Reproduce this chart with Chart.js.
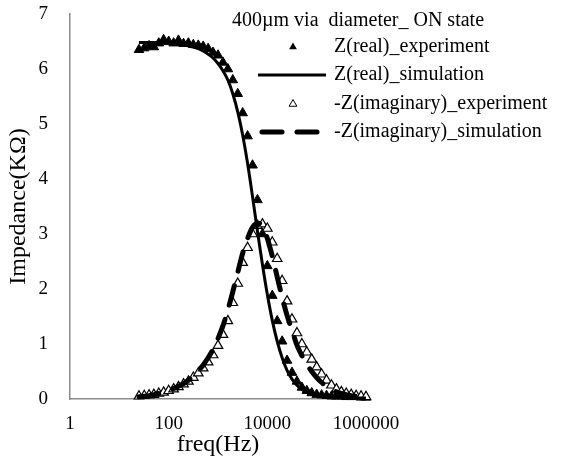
<!DOCTYPE html>
<html>
<head>
<meta charset="utf-8">
<script src="https://cdn.jsdelivr.net/npm/chart.js@4.4.0/dist/chart.umd.min.js"></script>
<style>
  body { margin: 0; background: #fff; }
  #wrap { width: 564px; height: 459px; }
</style>
</head>
<body>
<div id="wrap"><canvas id="impChart" width="564" height="459"></canvas></div>
<script>
// frequency points (Hz)
var freq = [25, 32, 40, 50, 63, 79, 100, 126, 158, 200, 251, 316, 398, 501, 631, 794,
  1000, 1259, 1585, 1995, 2512, 3162, 3981, 5012, 6310, 7943,
  10000, 12589, 15849, 19953, 25119, 31623, 39811, 50119, 63096, 79433,
  100000, 125893, 158489, 199526, 251189, 316228, 398107, 501187, 630957, 794328, 1000000];

// impedance values (KOhm)
var realExp = [6.35, 6.38, 6.42, 6.40, 6.47, 6.53, 6.50, 6.47, 6.52, 6.46, 6.47, 6.44, 6.43, 6.41, 6.37, 6.30,
  6.25, 6.12, 6.00, 5.80, 5.55, 5.20, 4.78, 4.25, 3.62, 3.00,
  2.42, 1.88, 1.42, 1.05, 0.70, 0.48, 0.32, 0.21, 0.15, 0.11,
  0.08, 0.07, 0.06, 0.05, 0.05, 0.05, 0.04, 0.04, 0.04, 0.03, 0.03];
var realSim = [6.48, 6.48, 6.48, 6.48, 6.48, 6.47, 6.47, 6.46, 6.45, 6.44, 6.42, 6.40, 6.37, 6.33, 6.27, 6.20,
  6.10, 5.97, 5.80, 5.55, 5.22, 4.80, 4.28, 3.68, 3.05, 2.45,
  1.90, 1.43, 1.05, 0.75, 0.52, 0.36, 0.25, 0.17, 0.12, 0.09,
  0.07, 0.05, 0.04, 0.04, 0.03, 0.03, 0.02, 0.02, 0.02, 0.02, 0.02];
var imagExp = [0.05, 0.06, 0.07, 0.08, 0.10, 0.12, 0.15, 0.18, 0.22, 0.27, 0.32, 0.39, 0.47, 0.56, 0.67, 0.80,
  0.97, 1.17, 1.42, 1.75, 2.10, 2.48, 2.75, 3.00, 3.15, 3.18,
  3.10, 2.85, 2.55, 2.15, 1.78, 1.45, 1.20, 1.00, 0.85, 0.72,
  0.58, 0.45, 0.34, 0.25, 0.18, 0.13, 0.10, 0.08, 0.06, 0.05, 0.04];
var imagSim = [0.04, 0.05, 0.06, 0.08, 0.10, 0.12, 0.15, 0.19, 0.23, 0.28, 0.34, 0.42, 0.51, 0.62, 0.75, 0.90,
  1.10, 1.33, 1.62, 1.95, 2.30, 2.65, 2.92, 3.12, 3.20, 3.15,
  2.92, 2.60, 2.22, 1.85, 1.52, 1.25, 0.98, 0.79, 0.63, 0.50,
  0.39, 0.30, 0.23, 0.17, 0.13, 0.10, 0.08, 0.06, 0.05, 0.04, 0.03];

var xTicks = [1, 100, 10000, 1000000];
var yTicks = [0, 1, 2, 3, 4, 5, 6, 7];
var legendTitle = '400\u00b5m via  diameter_ ON state';
var seriesNames = ['Z(real)_experiment', 'Z(real)_simulation', '-Z(imaginary)_experiment', '-Z(imaginary)_simulation'];

function pts(vals) {
  return freq.map(function (f, i) { return { x: f, y: vals[i] }; });
}

var serif = '"Liberation Serif", "Times New Roman", serif';

function tri(ctx, x, y, r, fill) {
  ctx.beginPath();
  ctx.moveTo(x, y - r);
  ctx.lineTo(x + r * 0.87, y + r * 0.5);
  ctx.lineTo(x - r * 0.87, y + r * 0.5);
  ctx.closePath();
  if (fill) { ctx.fillStyle = '#000'; ctx.fill(); }
  else { ctx.fillStyle = '#fff'; ctx.fill(); ctx.lineWidth = 1; ctx.strokeStyle = '#000'; ctx.stroke(); }
}

var legendPlugin = {
  id: 'sideLegend',
  afterDraw: function (chart) {
    var ctx = chart.ctx;
    var ds = chart.data.datasets;
    ctx.save();
    ctx.font = '20px ' + serif;
    ctx.fillStyle = '#000';
    ctx.textBaseline = 'middle';
    ctx.textAlign = 'left';
    ctx.fillText(legendTitle, 232, 21);
    var rows = [47, 75, 104, 132];
    for (var i = 0; i < ds.length; i++) {
      var y = rows[i];
      ctx.fillStyle = '#000';
      ctx.fillText(ds[i].label, 334, y);
      if (i == 0) tri(ctx, 293, y, 4.5, true);
      if (i == 2) tri(ctx, 293, y, 4.5, false);
      if (i == 1 || i == 3) {
        ctx.beginPath();
        ctx.strokeStyle = '#000';
        ctx.lineWidth = ds[i].borderWidth;
        ctx.lineCap = i == 3 ? 'round' : 'butt';
        ctx.setLineDash(i == 3 ? [20, 15] : []);
        ctx.moveTo(i == 3 ? 262 : 258, y);
        ctx.lineTo(326, y);
        ctx.stroke();
        ctx.setLineDash([]);
      }
    }
    ctx.restore();
  }
};

var ctx = document.getElementById('impChart').getContext('2d');
var myChart = new Chart(ctx, {
  type: 'scatter',
  data: {
    datasets: [{
      label: seriesNames[0],
      data: pts(realExp),
      pointStyle: 'triangle',
      pointRadius: 5.5,
      backgroundColor: '#000',
      borderColor: '#000',
      borderWidth: 1,
      showLine: false,
      clip: false,
      order: 4
    }, {
      label: seriesNames[1],
      data: pts(realSim),
      showLine: true,
      pointRadius: 0,
      borderColor: '#000',
      borderWidth: 3,
      tension: 0.3,
      clip: false,
      order: 1
    }, {
      label: seriesNames[2],
      data: pts(imagExp),
      pointStyle: 'triangle',
      pointRadius: 5.5,
      backgroundColor: '#fff',
      borderColor: '#000',
      borderWidth: 1.2,
      showLine: false,
      clip: false,
      order: 3
    }, {
      label: seriesNames[3],
      data: pts(imagSim),
      showLine: true,
      pointRadius: 0,
      borderColor: '#000',
      borderWidth: 5,
      borderDash: [20, 15],
      borderCapStyle: 'round',
      tension: 0.3,
      clip: false,
      order: 2
    }]
  },
  options: {
    responsive: false,
    animation: false,
    layout: { padding: { left: 0, right: 198, top: 14, bottom: 0 } },
    plugins: {
      legend: { display: false },
      tooltip: { enabled: false }
    },
    scales: {
      x: {
        type: 'logarithmic',
        min: 1,
        max: 1000000,
        grid: { display: false, drawTicks: false },
        border: { color: '#8c8c8c', width: 1.5 },
        afterBuildTicks: function (scale) {
          scale.ticks = xTicks.map(function (v) { return { value: v }; });
        },
        afterFit: function (scale) {
          scale.height = 60;
          scale.paddingLeft = 0;
          scale.paddingRight = 0;
        },
        ticks: {
          color: '#000',
          font: { family: serif, size: 19 },
          padding: 14,
          maxRotation: 0,
          autoSkip: false,
          callback: function (v) { return String(v); }
        },
        title: {
          display: true,
          text: 'freq(Hz)',
          color: '#000',
          font: { family: serif, size: 24 },
          padding: { top: 0, bottom: 0 }
        }
      },
      y: {
        min: 0,
        max: 7,
        grid: { display: false, drawTicks: false },
        border: { color: '#8c8c8c', width: 1.5 },
        afterBuildTicks: function (scale) {
          scale.ticks = yTicks.map(function (v) { return { value: v }; });
        },
        afterFit: function (scale) {
          scale.width = 70;
          scale.paddingTop = 0;
          scale.paddingBottom = 0;
        },
        ticks: {
          color: '#000',
          font: { family: serif, size: 19 },
          padding: 22
        },
        title: {
          display: true,
          text: 'Impedance(K\u03a9)',
          color: '#000',
          font: { family: serif, size: 24 },
          padding: { top: 4, bottom: 0 }
        }
      }
    }
  },
  plugins: [legendPlugin]
});
</script>
</body>
</html>
